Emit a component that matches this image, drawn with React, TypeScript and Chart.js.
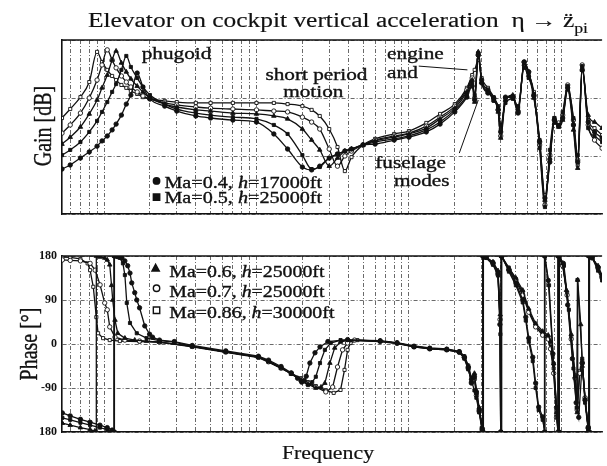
import React, { useEffect, useRef } from 'react';
import { Chart, registerables } from 'chart.js';

Chart.register(...registerables);

const SERIF = '"Liberation Serif", "Times New Roman", serif';
const INK = '#111';
const GRID = '#444';

// ---------------- data ----------------
// common frequency grid of the gain traces (Hz)
const FREQ_HZ = [
  0.0053, 0.006, 0.007, 0.008, 0.009, 0.0097, 0.0105, 0.0113, 0.012, 0.013,
  0.014, 0.015, 0.0165, 0.018, 0.02, 0.025, 0.03, 0.04, 0.05, 0.07,
  0.1, 0.13, 0.16, 0.2, 0.23, 0.26, 0.3, 0.34, 0.38, 0.42,
  0.5, 0.6, 0.8, 1.0, 1.3, 1.6, 2.0, 2.4, 2.6, 2.7,
  2.85, 3.0, 3.3, 3.6, 3.85, 4.0, 4.3, 4.8, 5.2, 5.7,
  6.1, 6.6, 7.2, 7.8, 8.4, 9.0, 9.6, 10.2, 11, 12,
  12.8, 13.7, 15, 16.5, 18.5,
];

// gain [dB]
const GAIN_MA040 = [
  -24.5, -23.1, -20.7, -18.6, -16.6, -14.8, -13.1, -11.0, -9.0, -5.9,
  -2.1, 1.0, 8.6, 3.8, -0.3, -2.8, -4.5, -6.2, -6.9, -7.6,
  -8.3, -12.4, -17.6, -23.8, -24.8, -23.5, -20.7, -19.3, -18.3, -17.6,
  -16.2, -15.9, -14.5, -13.5, -11.7, -9.0, -4.8, 0.3, 4.1, -0.7,
  14.8, 5.2, 1.7, 0, -4.1, -11.7, 0.3, 0.3, -5.2, 12.4,
  9.0, 0.7, -15.2, -34.5, -22.1, -7.6, -9.7, -6.9, 3.5, -9.3,
  -22.1, 9.7, -8.3, -11.7, -13.8,
];
const GAIN_MA050 = [
  -19.7, -17.9, -15.2, -11.7, -7.9, -4.8, -1.4, 2.1, 4.8, 9.7,
  14.5, 10.7, 6.9, 3.8, 1.0, -2.1, -3.8, -5.2, -5.9, -6.6,
  -7.2, -9.3, -12.4, -19.7, -24.5, -23.8, -20.7, -19.3, -18.3, -17.6,
  -16.2, -15.2, -14.1, -13.1, -11.0, -8.3, -4.1, 1.0, 5.2, 1.0,
  15.5, 6.2, 2.8, -1.0, -2.8, -9.3, -1.7, -0.3, -2.8, 10.4,
  6.9, 1.4, -17.3, -37.6, -17.9, -6.9, -9.3, -4.8, 4.1, -6.9,
  -19.7, 11.0, -10.4, -13.1, -15.2,
];
const GAIN_MA060 = [
  -15.9, -13.5, -10.0, -5.5, -0.7, 3.5, 7.9, 13.1, 16.2, 12.1,
  9.0, 6.6, 4.1, 2.1, 0, -2.1, -3.1, -4.1, -4.5, -5.2,
  -5.5, -6.2, -7.2, -10.7, -14.5, -17.9, -23.5, -20.7, -18.3, -17.6,
  -16.2, -14.8, -13.5, -12.4, -10.4, -7.2, -3.5, 2.1, 6.2, -1.4,
  15.9, 5.5, 2.1, -0.7, -4.8, -13.8, -0.7, 1.0, -4.1, 11.7,
  7.9, 0, -14.5, -35.2, -20.7, -8.6, -10.0, -7.6, 2.8, -11.0,
  -24.2, 9.7, -5.9, -8.3, -10.4,
];
const GAIN_MA070 = [
  -12.1, -9.3, -5.2, 0, 6.2, 11.4, 16.6, 13.1, 10.4, 7.6,
  5.5, 3.8, 2.1, 0.7, -0.3, -1.7, -2.4, -3.1, -3.5, -3.8,
  -4.1, -4.5, -4.8, -6.6, -8.3, -10.7, -17.6, -23.5, -20.0, -18.3,
  -16.2, -14.5, -13.1, -12.1, -9.7, -6.6, -2.8, 2.8, 6.9, 0,
  14.8, 6.2, 2.8, -0.3, -4.1, -13.1, 0, 0.3, -4.8, 12.4,
  9.0, 1.0, -16.2, -36.9, -19.7, -7.6, -8.6, -5.9, 4.5, -7.6,
  -21.4, 11.4, -9.3, -14.5, -17.3,
];
const GAIN_MA086 = [
  -6.9, -3.8, 0.3, 5.5, 15.9, 12.4, 9.7, 7.6, 6.2, 4.5,
  3.5, 2.4, 1.4, 0.3, -0.3, -1.0, -1.4, -1.7, -1.7, -1.7,
  -1.7, -1.7, -2.1, -2.8, -4.1, -6.2, -10.7, -16.9, -25.2, -20.4,
  -16.2, -14.1, -12.4, -11.4, -8.6, -5.5, -2.1, 3.5, 7.9, 9.7,
  13.1, 6.9, 3.5, 0.3, -3.5, -11.0, -0.7, 0.7, -3.5, 11.4,
  8.3, 2.1, -14.5, -33.5, -21.4, -6.9, -9.3, -6.9, 3.5, -9.3,
  -23.1, 10.4, -7.6, -10.4, -12.8,
];

// phase [deg] as [frequency Hz, phase]
const PHASE_MA040 = [
  [0.00533, -141], [0.006, -147], [0.007, -154], [0.0081, -160], [0.0094, -166], [0.0105, -171],
  [0.0113, -176], [0.0117, -180], [0.0117, 180], [0.0123, 179], [0.0131, 176], [0.0137, 170],
  [0.0143, 160], [0.0148, 145], [0.0152, 125], [0.0159, 105], [0.0164, 90], [0.0171, 74],
  [0.0185, 37], [0.0199, 20], [0.0208, 14], [0.0231, 8], [0.0289, 5], [0.0379, -3],
  [0.0629, -14], [0.103, -25], [0.12, -33], [0.145, -46], [0.169, -59], [0.186, -70],
  [0.198, -78], [0.206, -75], [0.212, -66], [0.224, -39], [0.242, -18], [0.261, -6],
  [0.294, 5], [0.396, 9], [0.648, 6], [0.836, 2], [1.08, -5], [1.37, -9], [1.77, -11],
  [2.14, -16], [2.31, -27], [2.45, -47], [2.57, -80], [2.69, -67], [2.77, -100], [2.89, -135],
  [3.03, -176], [3.05, -180], [3.05, 180], [3.21, 178], [3.56, 166], [3.84, 145], [3.95, 40],
  [4.0, -180], [4.03, 180], [4.53, 151], [5.03, 125], [5.58, 90], [5.84, 55], [6.11, 12],
  [6.49, -27], [6.78, -80], [7.1, -129], [7.54, -149], [7.75, -180], [7.75, 180], [8.2, 130],
  [8.8, -20], [9.3, -130], [9.6, -180], [9.6, 180], [10.3, 165], [11.0, 80], [11.8, -30],
  [12.5, -120], [13.0, -150], [13.7, -39], [14.3, -114], [15.0, -170], [15.2, -180], [15.2, 180],
  [15.9, 178], [17.4, 157], [18.5, 137],
];
const PHASE_MA050 = [
  [0.00533, -151], [0.006, -155], [0.007, -161], [0.0081, -166], [0.0094, -171], [0.0105, -175],
  [0.0114, -178], [0.0116, -180], [0.0116, 180], [0.0122, 178], [0.0127, 176], [0.0133, 165],
  [0.0137, 141], [0.0141, 84], [0.0148, 43], [0.0164, 22], [0.019, 12], [0.0231, 7],
  [0.0289, 4], [0.0379, -5], [0.0629, -16], [0.103, -27], [0.12, -35], [0.145, -48],
  [0.169, -61], [0.196, -75], [0.218, -84], [0.232, -78], [0.245, -67], [0.261, -39],
  [0.281, -12], [0.307, 2], [0.356, 8], [0.648, 5], [0.836, 1], [1.08, -6], [1.37, -10],
  [1.77, -12], [2.14, -17], [2.31, -30], [2.45, -52], [2.57, -75], [2.69, -95], [2.77, -110],
  [2.89, -140], [3.0, -172], [3.07, -180], [3.07, 180], [3.21, 176], [3.56, 162], [3.84, 140],
  [3.98, 20], [4.02, -180], [4.06, 180], [4.53, 148], [5.03, 120], [5.58, 85], [5.84, 48],
  [6.11, 5], [6.49, -35], [6.78, -90], [7.1, -135], [7.54, -155], [7.8, -180], [7.8, 180],
  [8.3, 120], [8.9, -40], [9.4, -150], [9.7, -180], [9.7, 180], [10.4, 160], [11.2, 70],
  [12.0, -50], [12.6, -130], [12.75, 131], [13.7, -30], [14.3, -120], [15.0, -176], [15.3, -180],
  [15.3, 180], [16.0, 175], [17.4, 150], [18.5, 130],
];
const PHASE_MA060 = [
  [0.00533, -162], [0.006, -166], [0.007, -171], [0.0081, -175], [0.0087, -178], [0.0089, -180],
  [0.0089, 180], [0.0094, 178], [0.0101, 176], [0.0105, 172], [0.0109, 162], [0.0112, 120],
  [0.0114, 90], [0.0118, 49], [0.0123, 22], [0.0137, 12], [0.0159, 8], [0.019, 6],
  [0.0231, 4], [0.0379, -5], [0.0629, -16], [0.103, -27], [0.12, -36], [0.145, -49],
  [0.169, -61], [0.196, -74], [0.218, -82], [0.245, -90], [0.265, -88], [0.281, -80],
  [0.303, -39], [0.326, -8], [0.356, 4], [0.4, 8], [0.648, 6], [0.836, 2], [1.08, -5],
  [1.37, -9], [1.77, -11], [2.14, -16], [2.31, -26], [2.45, -45], [2.57, -70], [2.69, -60],
  [2.77, -95], [2.89, -130], [3.03, -170], [3.08, -180], [3.08, 180], [3.21, 177], [3.56, 168],
  [3.84, 150], [3.97, 60], [4.01, -180], [4.05, 180], [4.53, 155], [5.03, 135], [5.58, 110],
  [6.11, 72], [6.78, 42], [7.54, 26], [8.2, 18], [8.49, 5], [8.9, -40], [9.3, -140],
  [9.55, -180], [9.55, 180], [10.2, 165], [10.8, 110], [11.6, 20], [12.3, -67], [12.7, -140],
  [12.8, 131], [13.4, 40], [13.7, -45], [14.3, -114], [15.0, -170], [15.15, -180], [15.15, 180],
  [15.9, 176], [17.4, 160], [18.5, 140],
];
const PHASE_MA070 = [
  [0.00533, 172], [0.006, 171], [0.007, 170], [0.0081, 165], [0.00875, 151], [0.00942, 121],
  [0.0101, 84], [0.0105, 70], [0.0109, 35], [0.0118, 14], [0.0137, 8], [0.0171, 6],
  [0.0231, 4], [0.0379, -5], [0.0629, -16], [0.103, -27], [0.12, -36], [0.145, -49],
  [0.169, -60], [0.196, -72], [0.218, -80], [0.245, -88], [0.285, -98], [0.316, -88],
  [0.34, -47], [0.367, -12], [0.396, 2], [0.44, 8], [0.648, 6], [0.836, 2], [1.08, -6],
  [1.37, -10], [1.77, -12], [2.14, -17], [2.31, -28], [2.45, -50], [2.57, -78], [2.69, -72],
  [2.77, -105], [2.89, -138], [3.03, -176], [3.06, -180], [3.06, 180], [3.21, 177], [3.56, 164],
  [3.84, 142], [3.96, 50], [4.0, -180], [4.04, 180], [4.53, 152], [5.03, 130], [5.58, 100],
  [6.11, 65], [6.78, 35], [7.54, 18], [8.2, 10], [8.49, -10], [8.9, -60], [9.3, -150],
  [9.5, -180], [9.5, 180], [10.2, 160], [10.9, 100], [11.6, 10], [12.3, -70], [12.7, -135],
  [13.2, -60], [13.7, -39], [14.3, -110], [15.0, -172], [15.2, -180], [15.2, 180], [15.9, 178],
  [17.4, 155], [18.5, 135],
];
const PHASE_MA086 = [
  [0.00533, 178], [0.006, 177], [0.007, 174], [0.0078, 165], [0.0081, 151], [0.0085, 117],
  [0.0089, 55], [0.00914, 22], [0.00986, 12], [0.0109, 8], [0.0127, 6], [0.0171, 5],
  [0.0231, 4], [0.0379, -6], [0.0629, -17], [0.103, -28], [0.12, -37], [0.145, -50],
  [0.169, -60], [0.196, -70], [0.218, -78], [0.245, -86], [0.285, -95], [0.321, -100],
  [0.356, -94], [0.378, -53], [0.396, -12], [0.414, 2], [0.459, 8], [0.648, 7], [0.836, 3],
  [1.08, -4], [1.37, -8], [1.77, -10], [2.14, -15], [2.31, -25], [2.45, -44], [2.57, -72],
  [2.69, -64], [2.77, -98], [2.89, -132], [3.03, -174], [3.06, -180], [3.06, 180], [3.21, 178],
  [3.56, 167], [3.84, 147], [3.96, 50], [4.0, -180], [4.04, 180], [4.53, 156], [5.03, 133],
  [5.58, 105], [6.11, 68], [6.78, 38], [7.54, 22], [8.2, 14], [8.49, 0], [8.9, -50],
  [9.3, -145], [9.52, -180], [9.52, 180], [10.2, 162], [10.9, 105], [11.6, 15], [12.3, -64],
  [12.7, -132], [13.2, -55], [13.7, -35], [14.3, -112], [15.0, -174], [15.2, -180], [15.2, 180],
  [15.9, 177], [17.4, 156], [18.5, 136],
];

const CASE_MACH = ['Ma=0.4, ', 'Ma=0.5, ', 'Ma=0.6, ', 'Ma=0.7, ', 'Ma=0.86, '];
const CASE_ALT = ['=17000ft', '=25000ft', '=25000ft', '=25000ft', '=30000ft'];
const GAIN_SERIES = [GAIN_MA040, GAIN_MA050, GAIN_MA060, GAIN_MA070, GAIN_MA086];
const PHASE_SERIES = [PHASE_MA040, PHASE_MA050, PHASE_MA060, PHASE_MA070, PHASE_MA086];

const FREQ_RANGE = [0.0053, 18.5];
const GRID_DECADES = [0.001, 0.01, 0.1, 1, 10];
const GRID_MANTISSAS = [1, 2, 3, 4, 5, 6, 7, 8, 9];
const GAIN_RANGE = [-40, 20];
const GAIN_GRID_DB = [-40, -20, 0, 20];
const PHASE_TICKS_DEG = [-180, -90, 0, 90, 180];
const PHASE_TICK_LABELS = ['180', '-90', '0', '90', '180'];

// ---------------- styling ----------------
const MARKERS = [
  { style: 'circle', filled: true },
  { style: 'rect', filled: true },
  { style: 'triangle', filled: true },
  { style: 'circle', filled: false },
  { style: 'rect', filled: false },
];

const DASH = [4, 2, 1, 2];

function makeDataset(label: string, data: any[], i: number, smooth: boolean) {
  const m = MARKERS[i];
  return {
    label,
    data,
    borderColor: INK,
    borderWidth: 1.3,
    pointStyle: m.style,
    pointRadius: m.style === 'triangle' ? 2.6 : 2.2,
    pointBorderWidth: 0.9,
    pointBorderColor: INK,
    pointBackgroundColor: m.filled ? INK : '#fff',
    tension: 0,
    cubicInterpolationMode: smooth ? 'monotone' : 'default',
    fill: false,
  };
}

function freqAxis() {
  return {
    type: 'logarithmic',
    min: FREQ_RANGE[0],
    max: FREQ_RANGE[1],
    afterBuildTicks: (scale: any) => {
      const vals: number[] = [];
      GRID_DECADES.forEach((d) => GRID_MANTISSAS.forEach((m) => vals.push(m * d)));
      scale.ticks = vals.filter((v) => v > scale.min && v < scale.max).map((value) => ({ value }));
    },
    afterFit: (scale: any) => {
      scale.height = 0;
    },
    ticks: { display: false },
    grid: { color: GRID, lineWidth: 0.8, drawTicks: false },
    border: { display: true, color: INK, width: 1.6, dash: DASH },
  };
}

type Part = { t: string; italic?: boolean; sub?: boolean };

function drawParts(ctx: any, parts: Part[], x: number, y: number, size: number, opts: any = {}) {
  const sx = opts.sx ?? 1.25;
  const align = opts.align ?? 'left';
  const stroke = opts.stroke ?? 0.35;
  const fontFor = (p: Part) =>
    `${p.italic ? 'italic ' : ''}${p.sub ? Math.round(size * 0.72) : size}px ${SERIF}`;
  let w = 0;
  const widths = parts.map((p) => {
    ctx.font = fontFor(p);
    const m = ctx.measureText(p.t).width;
    w += m;
    return m;
  });
  const s = opts.fit ? opts.fit / w : sx;
  const x0 = align === 'center' ? x - (w * s) / 2 : align === 'right' ? x - w * s : x;
  ctx.save();
  ctx.translate(x0, y);
  ctx.scale(s, 1);
  ctx.textAlign = 'left';
  ctx.textBaseline = 'alphabetic';
  ctx.fillStyle = INK;
  ctx.strokeStyle = INK;
  ctx.lineWidth = stroke;
  let cx = 0;
  parts.forEach((p, i) => {
    ctx.font = fontFor(p);
    const dy = p.sub ? size * 0.32 : 0;
    ctx.fillText(p.t, cx, dy);
    if (stroke > 0) ctx.strokeText(p.t, cx, dy);
    cx += widths[i];
  });
  ctx.restore();
}

function drawRotated(ctx: any, text: string, cx: number, cy: number, size: number, sy = 1.25) {
  ctx.save();
  ctx.translate(cx, cy);
  ctx.rotate(-Math.PI / 2);
  ctx.scale(1, sy);
  ctx.font = `${size}px ${SERIF}`;
  ctx.textAlign = 'center';
  ctx.textBaseline = 'middle';
  ctx.fillStyle = INK;
  ctx.strokeStyle = INK;
  ctx.lineWidth = 0.3;
  ctx.fillText(text, 0, 0);
  ctx.strokeText(text, 0, 0);
  ctx.restore();
}

function drawMarker(ctx: any, i: number, x: number, y: number, r: number) {
  const m = MARKERS[i];
  ctx.save();
  ctx.beginPath();
  if (m.style === 'circle') ctx.arc(x, y, r, 0, Math.PI * 2);
  else if (m.style === 'rect') ctx.rect(x - r, y - r, 2 * r, 2 * r);
  else {
    ctx.moveTo(x, y - r * 1.25);
    ctx.lineTo(x + r * 1.15, y + r * 0.85);
    ctx.lineTo(x - r * 1.15, y + r * 0.85);
    ctx.closePath();
  }
  ctx.fillStyle = m.filled ? INK : '#fff';
  ctx.fill();
  ctx.lineWidth = 1.4;
  ctx.strokeStyle = INK;
  ctx.stroke();
  ctx.restore();
}

function legendParts(i: number): Part[] {
  return [{ t: CASE_MACH[i] }, { t: 'h', italic: true }, { t: CASE_ALT[i] }];
}

// annotation anchors, in data units (frequency Hz, value)
const GAIN_NOTES = [
  { t: 'phugoid', f: 0.01766, v: 13.5 },
  { t: 'short period', f: 0.1144, v: 6.2 },
  { t: 'motion', f: 0.1497, v: 0.3 },
  { t: 'engine', f: 0.719, v: 13.5 },
  { t: 'and', f: 0.719, v: 6.9 },
  { t: 'fuselage', f: 0.601, v: -24.2 },
  { t: 'modes', f: 0.799, v: -30.4 },
];
const GAIN_LEADERS = [
  [[1.16, 11.0], [2.42, 9.7]],
  [[2.14, -19.0], [2.85, -0.7]],
];
const GAIN_LEGEND = [
  { i: 0, mf: 0.0221, mv: -28.6, tf: 0.0249, tv: -31.1 },
  { i: 1, mf: 0.0221, mv: -34.2, tf: 0.0249, tv: -36.3 },
];
const PHASE_LEGEND = [
  { i: 2, mf: 0.0218, mv: 155, tf: 0.0268, tv: 137 },
  { i: 3, mf: 0.0221, mv: 114, tf: 0.0268, tv: 96 },
  { i: 4, mf: 0.0221, mv: 69, tf: 0.0268, tv: 53 },
];

const gainDecor = {
  id: 'gainDecor',
  afterDraw(chart: any) {
    const { ctx, chartArea: a, scales } = chart;
    const X = (f: number) => scales.x.getPixelForValue(f);
    const Y = (v: number) => scales.y.getPixelForValue(v);
    ctx.save();
    // top frame line
    ctx.strokeStyle = INK;
    ctx.lineWidth = 1.6;
    ctx.beginPath();
    ctx.moveTo(a.left, a.top);
    ctx.lineTo(a.right, a.top);
    ctx.stroke();
    // title
    drawParts(
      ctx,
      [{ t: 'Elevator on cockpit vertical acceleration  \u03b7 \u2192 z\u0308' }, { t: 'pi', sub: true }],
      a.left + 26,
      a.top - 13,
      20,
      { fit: 500, stroke: 0.15 }
    );
    drawRotated(ctx, 'Gain [dB]', a.left - 18, (a.top + a.bottom) / 2 - 1, 20, 1.25);
    GAIN_NOTES.forEach((n) => drawParts(ctx, [{ t: n.t }], X(n.f), Y(n.v), 17, { sx: 1.25 }));
    ctx.strokeStyle = INK;
    ctx.lineWidth = 1;
    GAIN_LEADERS.forEach(([p, q]) => {
      ctx.beginPath();
      ctx.moveTo(X(p[0]), Y(p[1]));
      ctx.lineTo(X(q[0]), Y(q[1]));
      ctx.stroke();
    });
    GAIN_LEGEND.forEach((l) => {
      drawMarker(ctx, l.i, X(l.mf), Y(l.mv), 3.2);
      drawParts(ctx, legendParts(l.i), X(l.tf), Y(l.tv), 16, { sx: 1.26 });
    });
    ctx.restore();
  },
};

const phaseDecor = {
  id: 'phaseDecor',
  afterDraw(chart: any) {
    const { ctx, chartArea: a, scales } = chart;
    const X = (f: number) => scales.x.getPixelForValue(f);
    const Y = (v: number) => scales.y.getPixelForValue(v);
    ctx.save();
    ctx.strokeStyle = INK;
    ctx.lineWidth = 1.6;
    ctx.beginPath();
    ctx.moveTo(a.left, a.top);
    ctx.lineTo(a.right, a.top);
    ctx.stroke();
    drawRotated(ctx, 'Phase [\u00b0]', a.left - 32, (a.top + a.bottom) / 2, 20, 1.25);
    drawParts(ctx, [{ t: 'Frequency' }], 328, a.bottom + 27, 19, { sx: 1.15, align: 'center', stroke: 0.2 });
    PHASE_LEGEND.forEach((l) => {
      drawMarker(ctx, l.i, X(l.mf), Y(l.mv), 3.2);
      drawParts(ctx, legendParts(l.i), X(l.tf), Y(l.tv), 16, { sx: 1.24 });
    });
    ctx.restore();
  },
};

export default function App() {
  const gainRef = useRef<HTMLCanvasElement | null>(null);
  const phaseRef = useRef<HTMLCanvasElement | null>(null);

  useEffect(() => {
    const labels = CASE_MACH.map((m, i) => m + 'h' + CASE_ALT[i]);
    const gainSets = GAIN_SERIES.map((s, i) =>
      makeDataset(labels[i], s.map((v, k) => ({ x: FREQ_HZ[k], y: v })), i, true)
    );
    const phaseSets = PHASE_SERIES.map((s, i) =>
      makeDataset(labels[i], s.map((p) => ({ x: p[0], y: p[1] })), i, false)
    );

    const common: any = {
      responsive: false,
      animation: false,
      events: [],
      plugins: { legend: { display: false }, tooltip: { enabled: false }, title: { display: false } },
    };

    const gain = new Chart(gainRef.current as HTMLCanvasElement, {
      type: 'line',
      data: { datasets: gainSets as any },
      options: {
        ...common,
        layout: { padding: { left: 62, top: 40, right: 0, bottom: 26 } },
        scales: {
          x: freqAxis() as any,
          y: {
            type: 'linear',
            min: GAIN_RANGE[0],
            max: GAIN_RANGE[1],
            afterBuildTicks: (scale: any) => {
              scale.ticks = GAIN_GRID_DB.map((value) => ({ value }));
            },
            afterFit: (scale: any) => {
              scale.width = 0;
            },
            ticks: { display: false },
            grid: { color: GRID, lineWidth: 0.8, drawTicks: false },
            border: { display: true, color: INK, width: 1.6, dash: DASH },
          },
        },
      },
      plugins: [gainDecor],
    });

    const phase = new Chart(phaseRef.current as HTMLCanvasElement, {
      type: 'line',
      data: { datasets: phaseSets as any },
      options: {
        ...common,
        layout: { padding: { left: 0, top: 16, right: 0, bottom: 34 } },
        scales: {
          x: freqAxis() as any,
          y: {
            type: 'linear',
            min: -180,
            max: 180,
            afterBuildTicks: (scale: any) => {
              scale.ticks = PHASE_TICKS_DEG.map((value) => ({ value }));
            },
            afterFit: (scale: any) => {
              scale.width = 62;
            },
            ticks: {
              display: true,
              padding: 5,
              color: INK,
              font: { family: SERIF, size: 12, weight: 'bold' },
              callback: (_v: any, i: number) => PHASE_TICK_LABELS[i],
            },
            grid: { color: GRID, lineWidth: 0.8, drawTicks: false },
            border: { display: true, color: INK, width: 1.6, dash: DASH },
          },
        },
      },
      plugins: [phaseDecor],
    });

    return () => {
      gain.destroy();
      phase.destroy();
    };
  }, []);

  return (
    <div style={{ position: 'fixed', left: 0, top: 0, width: 607, height: 466, background: '#fff', overflow: 'hidden' }}>
      <canvas ref={gainRef} width={607} height={240} style={{ position: 'absolute', left: 0, top: 0, display: 'block' }} />
      <canvas ref={phaseRef} width={607} height={226} style={{ position: 'absolute', left: 0, top: 240, display: 'block' }} />
    </div>
  );
}
